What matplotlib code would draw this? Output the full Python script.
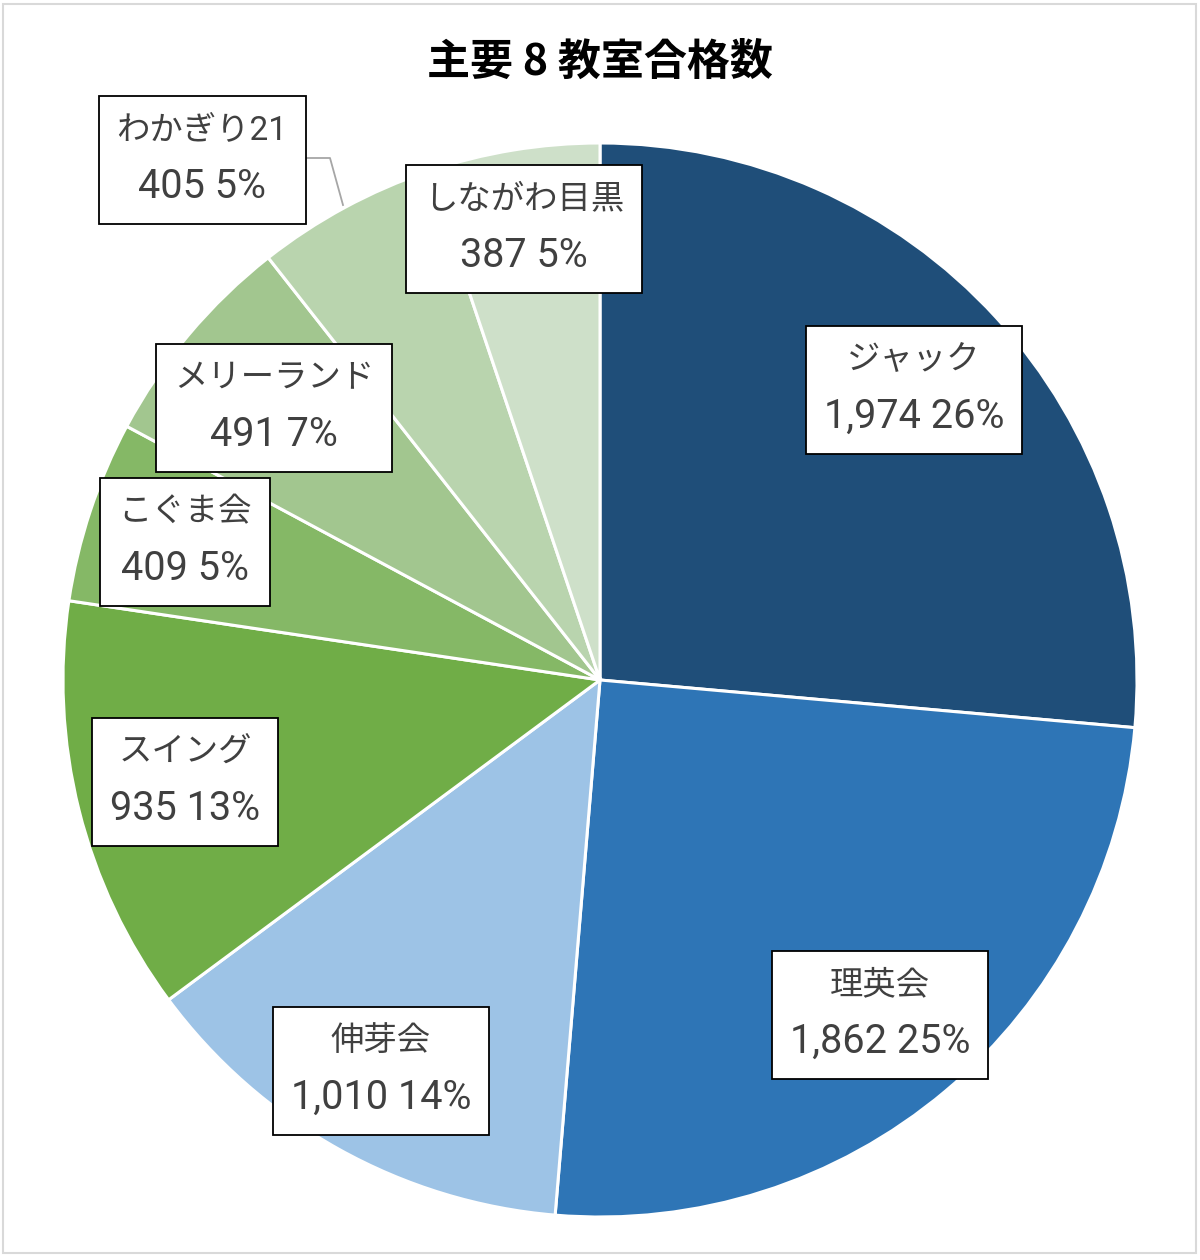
import matplotlib
matplotlib.use('Agg')
import matplotlib.pyplot as plt
from matplotlib.patches import Rectangle
from matplotlib.offsetbox import TextArea, VPacker, AnnotationBbox

plt.rcParams['font.family'] = ['Roboto', 'Noto Sans CJK JP', 'DejaVu Sans']

# data
schools = ['ジャック', '理英会', '伸芽会', 'スイング', 'こぐま会', 'メリーランド', 'わかぎり21', 'しながわ目黒']
counts = [1974, 1862, 1010, 935, 409, 491, 405, 387]
colors = ['#1F4E79', '#2E75B6', '#9DC3E6', '#70AD47', '#85B866', '#A2C68F', '#B9D4AE', '#CEE0C9']

# label box centres in pixels (x, y from top)
label_pos = [(914, 390), (880, 1015), (381, 1071), (185, 782),
             (185, 542), (274, 408), (202, 160), (524, 229)]

W, H = 1200, 1260
fig = plt.figure(figsize=(12, 12.6), dpi=100)
ax = fig.add_axes([0, 0, 1, 1])

def py(y):
    return H - y

# outer border
ax.add_patch(Rectangle((3, py(1253)), 1193, 1249, fill=False, edgecolor='#D9D9D9', linewidth=1.5))

ax.pie(counts, colors=colors, startangle=90, counterclock=False,
       center=(600, py(680)), radius=537, frame=True,
       wedgeprops=dict(edgecolor='white', linewidth=2.2))
ax.set_xlim(0, W)
ax.set_ylim(0, H)
ax.axis('off')

total = sum(counts)
txt = '#404040'
for name, c, (lx, ly) in zip(schools, counts, label_pos):
    pct = round(c / total * 100)
    t1 = TextArea(name, textprops=dict(fontsize=24, color=txt))
    t2 = TextArea(f'{c:,} {pct}%', textprops=dict(fontsize=28.5, color=txt))
    box = VPacker(children=[t1, t2], align='center', pad=0, sep=15)
    ab = AnnotationBbox(box, (lx, py(ly)), xycoords='data', frameon=True,
                        box_alignment=(0.5, 0.5), pad=0.54, fontsize=24,
                        bboxprops=dict(facecolor='white', edgecolor='black', linewidth=1.3))
    ax.add_artist(ab)

# leader line for わかぎり21
ax.plot([305, 330, 343], [py(158), py(158), py(205)], color='#A6A6A6', linewidth=1.3)

ax.text(600, py(62), '主要 8 教室合格数', ha='center', va='center',
        fontsize=31, fontweight='bold', color='black',
        family=['Noto Sans CJK JP', 'DejaVu Sans'])

fig.savefig('out.png', dpi=100)
